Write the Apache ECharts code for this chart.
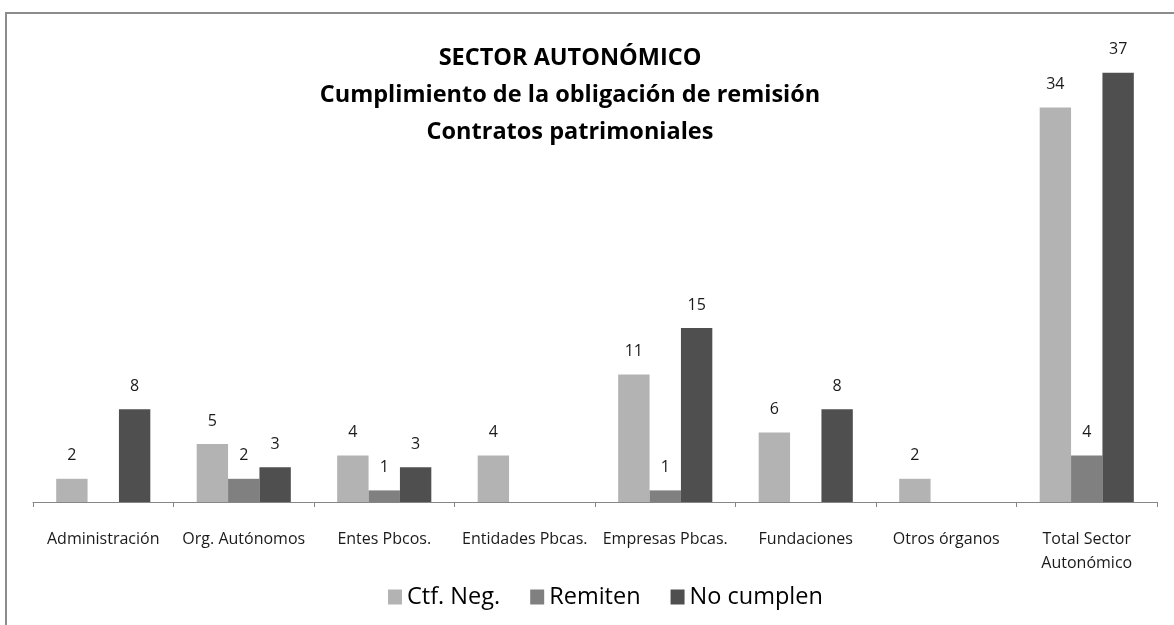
<!DOCTYPE html>
<html>
<head>
<meta charset="utf-8">
<script src="https://cdn.jsdelivr.net/npm/echarts@6/dist/echarts.min.js"></script>
<style>
  html, body { margin: 0; padding: 0; background: #fff; }
  #chart { width: 1174px; height: 625px; }
</style>
</head>
<body>
<div id="chart"></div>
<script>
var categories = ["Administración", "Org. Autónomos", "Entes Pbcos.", "Entidades Pbcas.",
  "Empresas Pbcas.", "Fundaciones", "Otros órganos", "Total Sector\nAutonómico"];
var ctfNeg = [2, 5, 4, 4, 11, 6, 2, 34];
var remiten = [null, 2, 1, null, 1, null, null, 4];
var noCumplen = [8, 3, 3, null, 15, 8, null, 37];

var font = "Open Sans";
var chart = echarts.init(document.getElementById("chart"));

function barSeries(name, data, color) {
  return {
    name: name,
    type: "bar",
    data: data,
    barGap: 0,
    barCategoryGap: "33%",
    itemStyle: { color: color },
    label: {
      show: true,
      position: "top",
      distance: 15,
      color: "#1a1a1a",
      fontFamily: font,
      fontSize: 16
    }
  };
}

chart.setOption({
  animation: false,
  textStyle: { fontFamily: font },
  title: {
    text: "SECTOR AUTONÓMICO\nCumplimiento de la obligación de remisión\nContratos patrimoniales",
    left: 565,
    top: 35,
    textAlign: "center",
    textStyle: {
      fontFamily: font,
      fontSize: 23.5,
      fontWeight: "bold",
      color: "#000",
      lineHeight: 37
    }
  },
  legend: {
    top: 580,
    left: 383,
    itemWidth: 14,
    itemHeight: 15,
    itemGap: 30,
    icon: "rect",
    textStyle: { fontFamily: font, fontSize: 23.5, color: "#000" },
    data: ["Ctf. Neg.", "Remiten", "No cumplen"]
  },
  grid: { left: 33, right: 17, top: 38, bottom: 123, containLabel: false },
  xAxis: {
    type: "category",
    data: categories,
    axisLine: { lineStyle: { color: "#868686", width: 1 } },
    axisTick: { show: true, length: 5, lineStyle: { color: "#868686" } },
    axisLabel: {
      interval: 0,
      margin: 25,
      fontFamily: font,
      fontSize: 16,
      color: "#1a1a1a",
      lineHeight: 24
    }
  },
  yAxis: {
    type: "value",
    min: 0,
    max: 40,
    show: false
  },
  series: [
    barSeries("Ctf. Neg.", ctfNeg, "#b3b3b3"),
    barSeries("Remiten", remiten, "#808080"),
    barSeries("No cumplen", noCumplen, "#4f4f4f")
  ],
  graphic: [{
    type: "polyline",
    shape: { points: [[6, 625], [6, 13], [1174, 13]] },
    style: { fill: null, stroke: "#8c8c8c", lineWidth: 2 },
    silent: true
  }]
});
</script>
</body>
</html>
